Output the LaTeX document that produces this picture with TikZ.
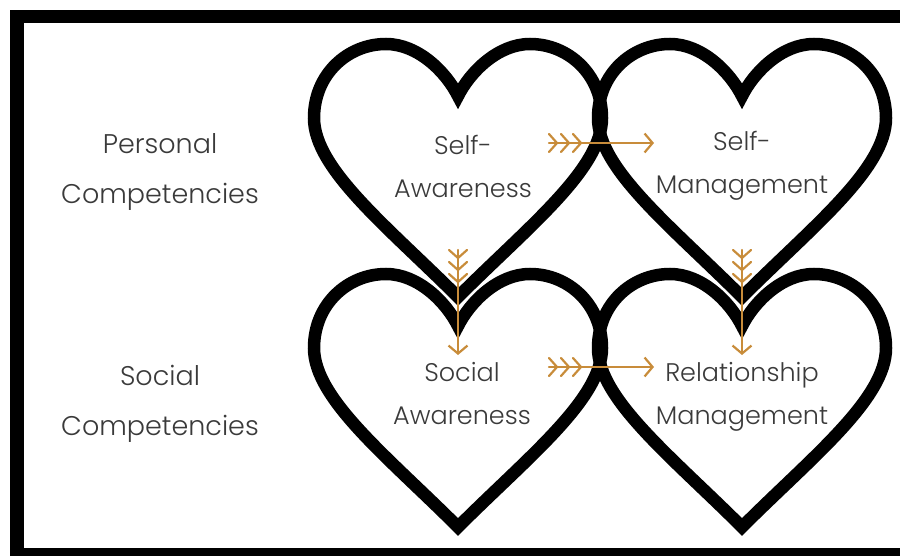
\documentclass[tikz,border=0pt]{standalone}
\usepackage{fontspec}
\setmainfont{Poppins}[UprightFont=* Light]
\usetikzlibrary{arrows.meta}
\definecolor{gold}{RGB}{200,140,58}
\definecolor{ink}{RGB}{58,58,58}
\tikzset{
  frame/.style={line width=13.5pt, black},
  heartline/.style={line width=12.5pt, black, line join=miter},
  goldline/.style={line width=2.2pt, gold, line cap=round, line join=round},
  goldarrow/.style={goldline, -{Straight Barb[length=8pt,width=19pt,line width=2.2pt]}},
  sidelabel/.style={text=ink, align=center, font=\fontsize{27}{50}\selectfont},
  heartlabel/.style={text=ink, align=center, font=\fontsize{25.5}{43}\selectfont},
  heart/.pic={
    \draw[heartline] (0,52) .. controls (12,28) and (40,0) .. (72,0)
      .. controls (110,0) and (144,30) .. (144,74)
      .. controls (144,125) and (70,183) .. (0,253)
      .. controls (-70,183) and (-144,125) .. (-144,74)
      .. controls (-144,30) and (-110,0) .. (-72,0)
      .. controls (-40,0) and (-12,28) .. cycle;
  },
  hfeathers/.pic={
    \foreach \d in {0,12,24}
      \draw[goldline] (\d,-9) -- (\d+8,0) -- (\d,9);
  },
  vfeathers/.pic={
    \foreach \d in {0,12,24}
      \draw[goldline] (-9,\d) -- (0,\d+8) -- (9,\d);
  }
}
\begin{document}
\begin{tikzpicture}[x=1pt,y=-1pt]
  \useasboundingbox (0,0) rectangle (900,556);
  % open-ended frame
  \draw[frame] (920,16.75) -- (16.75,16.75) -- (16.75,555) -- (920,555);

  % four hearts
  \pic (hsa) at (458,44) {heart};
  \pic (hsm) at (742,44) {heart};
  \pic (hoa) at (458,274) {heart};
  \pic (hrm) at (742,274) {heart};

  % arrow end points
  \coordinate (t1) at (549,143);  \coordinate (h1) at (654,143);
  \coordinate (t2) at (549,367);  \coordinate (h2) at (654,367);
  \coordinate (t3) at (458,250);  \coordinate (h3) at (458,355);
  \coordinate (t4) at (742,250);  \coordinate (h4) at (742,355);

  \draw[goldarrow] (t1) -- (h1);
  \draw[goldarrow] (t2) -- (h2);
  \draw[goldarrow] (t3) -- (h3);
  \draw[goldarrow] (t4) -- (h4);
  \pic at (t1) {hfeathers};
  \pic at (t2) {hfeathers};
  \pic at (t3) {vfeathers};
  \pic at (t4) {vfeathers};

  % row labels
  \node[sidelabel] (pc) at (160,172) {Personal\\Competencies};
  \node[sidelabel] (sc) at (160,404) {Social\\Competencies};

  % heart labels
  \node[heartlabel] (sa) at (463,166) {Self-\\Awareness};
  \node[heartlabel] (sm) at (742,166) {Self-\\Management};
  \node[heartlabel] (oa) at (462,394) {Social\\Awareness};
  \node[heartlabel] (rm) at (742,397) {Relationship\\Management};
\end{tikzpicture}
\end{document}
